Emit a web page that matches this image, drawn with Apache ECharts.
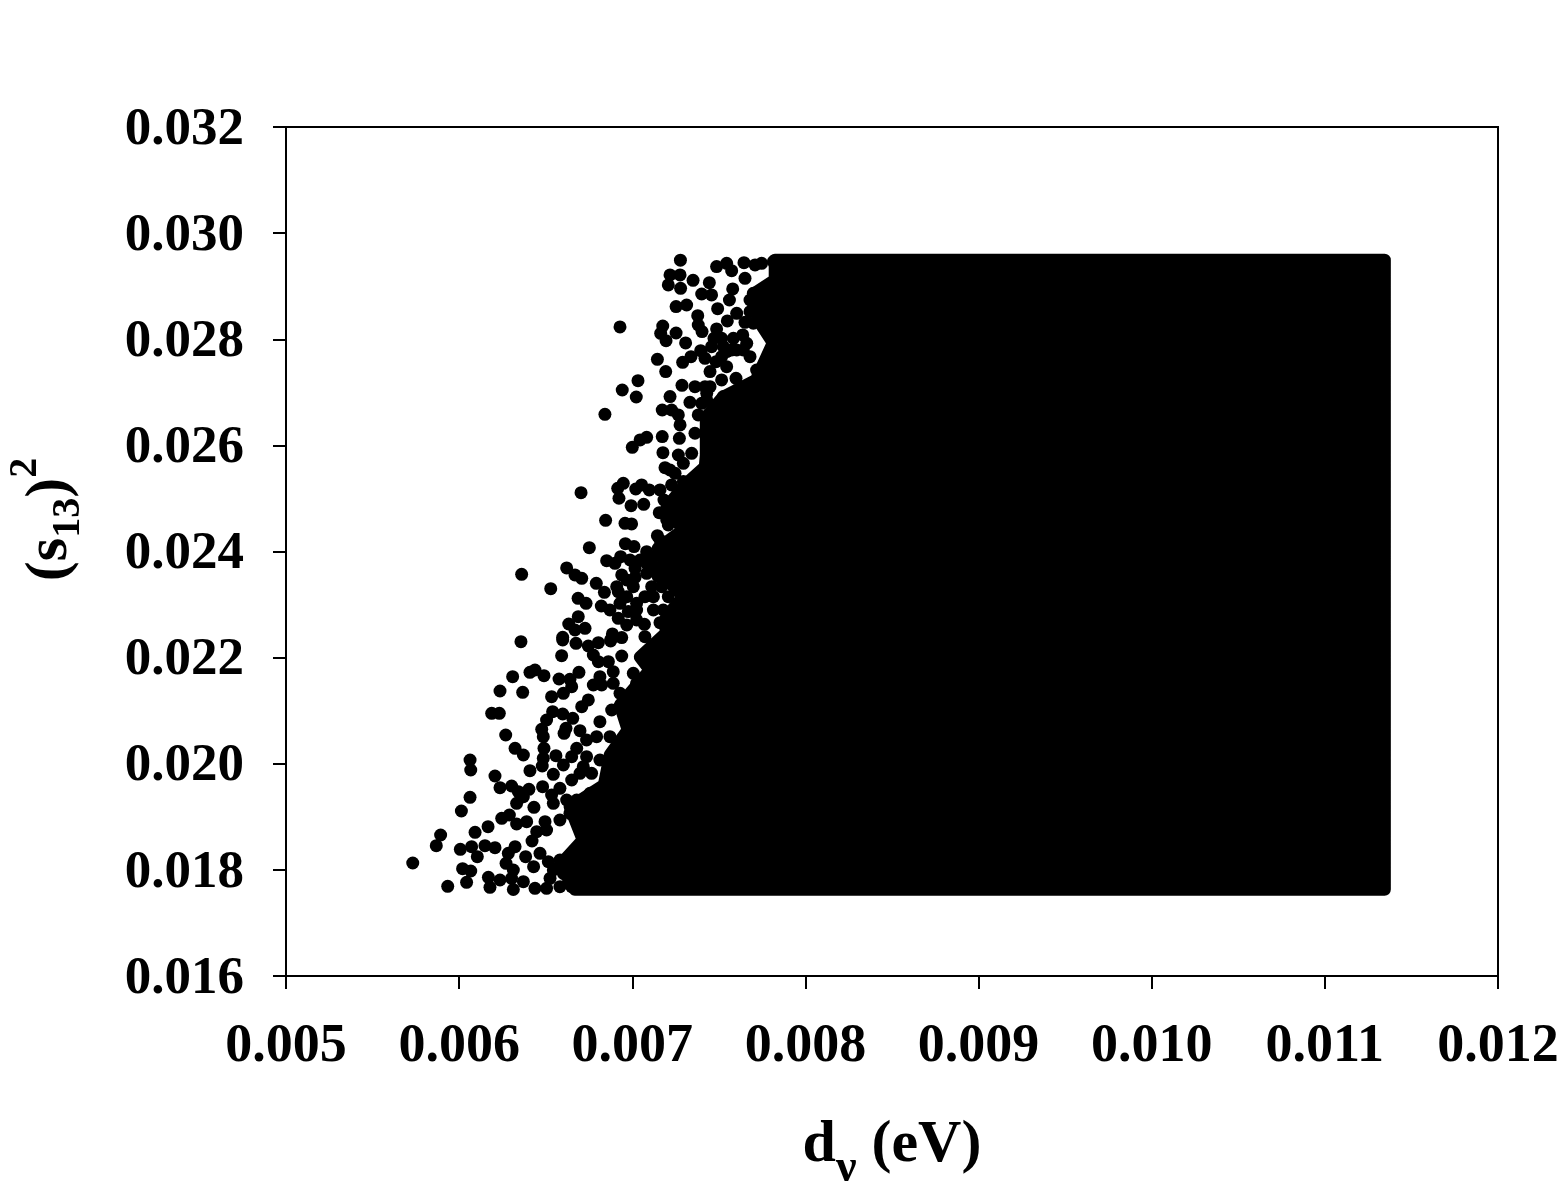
<!DOCTYPE html>
<html><head><meta charset="utf-8">
<style>html,body{margin:0;padding:0;background:#fff}#c{width:1560px;height:1200px}</style>
<script src="https://cdn.jsdelivr.net/npm/echarts@6/dist/echarts.min.js"></script>
</head><body><div id="c"></div>
<script>
const xRange = [0.005, 0.012];
const yRange = [0.016, 0.032];
const xStep = 0.001;
const yStep = 0.002;
const xTitle = 'd{sub|ν}{rest| (eV)}';
const yTitle = '(s{sub|13}){sup|2}';

// Boundary of the saturated region (centres of the outermost overlapping points)
const denseEdge = [[0.006669,0.01763],[0.006583,0.018092],[0.006715,0.018563],[0.00664,0.019185],[0.006837,0.0196],[0.006871,0.020165],[0.006975,0.020636],[0.006929,0.021107],[0.007102,0.021767],[0.007045,0.022012],[0.007195,0.022464],[0.007189,0.022709],[0.007252,0.022992],[0.007299,0.023143],[0.00716,0.023595],[0.007189,0.023896],[0.00716,0.024085],[0.007293,0.024405],[0.0072,0.024839],[0.007304,0.025254],[0.00742,0.025593],[0.007426,0.025819],[0.007426,0.026535],[0.007524,0.026912],[0.007715,0.027233],[0.007813,0.02793],[0.007738,0.028307],[0.007709,0.028872],[0.007824,0.029117],[0.007824,0.029494],[0.011345,0.029494],[0.011345,0.01763]];

const dotsLow = [[0.006357,0.022301],[0.006598,0.022332],[0.006675,0.02227],[0.006746,0.022219],[0.006804,0.022282],[0.006875,0.022314],[0.006592,0.022037],[0.006775,0.02205],[0.006939,0.022031],[0.006804,0.021924],[0.006862,0.021924],[0.00689,0.021736],[0.006309,0.021641],[0.006409,0.021723],[0.006438,0.021767],[0.00649,0.02166],[0.006577,0.021597],[0.00664,0.021591],[0.006692,0.021723],[0.00665,0.021453],[0.006602,0.021327],[0.006534,0.021264],[0.006236,0.021371],[0.006367,0.021346],[0.006775,0.021484],[0.006823,0.021484],[0.006746,0.021202],[0.006708,0.021076],[0.006188,0.02095],[0.006232,0.02095],[0.00654,0.020982],[0.006505,0.020825],[0.006598,0.020938],[0.006656,0.020856],[0.006477,0.020649],[0.006486,0.020511],[0.006617,0.020668],[0.006606,0.020573],[0.006698,0.020624],[0.006813,0.020793],[0.006881,0.021013],[0.006269,0.020542],[0.006323,0.020291],[0.006371,0.020165],[0.00649,0.020291],[0.006486,0.020102],[0.00648,0.019958],[0.006559,0.020153],[0.006679,0.020291],[0.00665,0.020134],[0.006602,0.019977],[0.006063,0.020071],[0.006067,0.019882],[0.006409,0.01987],[0.006544,0.019801],[0.006207,0.019769],[0.006236,0.019549],[0.006303,0.019581],[0.006342,0.019474],[0.006403,0.019518],[0.006482,0.019568],[0.006582,0.019537],[0.006534,0.019411],[0.00665,0.019694],[0.006765,0.01982],[0.006371,0.01938],[0.006332,0.019254],[0.006432,0.019179],[0.006544,0.019254],[0.006063,0.019367],[0.006013,0.01911],[0.006246,0.018972],[0.00629,0.019034],[0.006332,0.018865],[0.00639,0.018909],[0.006496,0.018909],[0.006167,0.018814],[0.006092,0.018708],[0.005893,0.018657],[0.005868,0.018456],[0.006448,0.01872],[0.006421,0.018544],[0.006505,0.018752],[0.006007,0.018387],[0.006072,0.018438],[0.006105,0.018249],[0.006149,0.018456],[0.006207,0.018419],[0.006323,0.018438],[0.006284,0.018312],[0.006271,0.018124],[0.006313,0.017998],[0.006384,0.018249],[0.006467,0.018312],[0.006515,0.018155],[0.00643,0.018061],[0.005732,0.01813],[0.00602,0.018023],[0.006067,0.017979],[0.006043,0.017765],[0.005934,0.01769],[0.006169,0.01786],[0.006178,0.017671],[0.006236,0.017809],[0.006303,0.017841],[0.006313,0.01763],[0.006371,0.017778],[0.006438,0.017652],[0.006505,0.017652],[0.006582,0.017684],[0.00665,0.017684],[0.006794,0.017652],[0.006717,0.017778],[0.007006,0.021704],[0.007025,0.021516],[0.006948,0.021264],[0.00689,0.021516],[0.006987,0.020982],[0.006871,0.020511],[0.006794,0.020511],[0.006736,0.020448],[0.006736,0.020134],[0.006871,0.01982],[0.006698,0.01982],[0.006794,0.01938],[0.006679,0.019317],[0.00664,0.019066],[0.006582,0.01894],[0.006698,0.019003],[0.006736,0.018814],[0.006717,0.0185],[0.006659,0.018249],[0.006582,0.018186],[0.006602,0.017935],[0.006525,0.017841],[0.006852,0.017809],[0.00689,0.018312],[0.006775,0.017935],[0.00689,0.019505],[0.006813,0.021641],[0.006929,0.021327],[0.006717,0.019945],[0.006813,0.020071],[0.006756,0.019443],[0.006621,0.019317],[0.006679,0.019003],[0.006736,0.018312],[0.006544,0.018],[0.006698,0.018061]];

const dotsMid = [[0.007295,0.025662],[0.007189,0.02558],[0.007247,0.025474],[0.006704,0.025109],[0.006916,0.025191],[0.006948,0.025285],[0.00702,0.025178],[0.007054,0.025254],[0.007098,0.02516],[0.006923,0.025003],[0.006993,0.024864],[0.007066,0.024889],[0.007183,0.024971],[0.007156,0.024732],[0.007208,0.0245],[0.007199,0.024594],[0.006846,0.024588],[0.006958,0.024531],[0.006996,0.024519],[0.007145,0.024299],[0.006752,0.024073],[0.00696,0.024148],[0.00701,0.024092],[0.007083,0.023997],[0.00715,0.02406],[0.006852,0.023828],[0.006933,0.023903],[0.006987,0.02384],[0.0069,0.023777],[0.006621,0.02369],[0.006361,0.02357],[0.006669,0.023558],[0.006708,0.023495],[0.006792,0.0234],[0.006939,0.023558],[0.007016,0.023514],[0.006529,0.0233],[0.00691,0.023338],[0.006839,0.023231],[0.006968,0.023149],[0.006687,0.023118],[0.006733,0.023024],[0.006821,0.022973],[0.006871,0.022898],[0.006929,0.023024],[0.007006,0.023338],[0.007073,0.023149],[0.006688,0.022772],[0.006633,0.022634],[0.006727,0.022552],[0.006598,0.022383],[0.006669,0.022521],[0.006885,0.022446],[0.006875,0.022333],[0.006939,0.022377],[0.006919,0.022741],[0.006968,0.022615],[0.00707,0.022628],[0.007073,0.022395],[0.00716,0.022659],[0.007208,0.023149],[0.007122,0.022898],[0.00717,0.023338],[0.007227,0.025254],[0.007295,0.025317],[0.007314,0.025097],[0.007256,0.024908],[0.007314,0.024751],[0.007247,0.024751],[0.007256,0.02428],[0.007237,0.024091],[0.007199,0.023903],[0.007122,0.023715],[0.007199,0.023589],[0.007083,0.023589],[0.007179,0.022898],[0.007237,0.022835],[0.007025,0.022898],[0.00715,0.023526],[0.006968,0.023463],[0.007112,0.023338],[0.007025,0.023024],[0.007122,0.023149],[0.006977,0.022867],[0.007025,0.02271],[0.006919,0.023243],[0.007141,0.023589],[0.007083,0.023777],[0.007016,0.023683],[0.007045,0.02384],[0.007122,0.023903],[0.00716,0.024217],[0.007199,0.024783],[0.00716,0.02516],[0.007218,0.025536]];

const dotsHigh = [[0.007278,0.02949],[0.007487,0.029369],[0.007545,0.029431],[0.007574,0.029293],[0.007645,0.029444],[0.007709,0.0294],[0.007747,0.029431],[0.007651,0.029149],[0.007218,0.029212],[0.007276,0.029212],[0.007208,0.029023],[0.007279,0.02896],[0.007351,0.029111],[0.007445,0.029067],[0.007401,0.028853],[0.007458,0.028835],[0.00758,0.028948],[0.007561,0.02874],[0.007699,0.028866],[0.00768,0.02874],[0.007253,0.028615],[0.007314,0.028646],[0.007493,0.028577],[0.007378,0.028445],[0.007381,0.028269],[0.007403,0.028144],[0.007603,0.028489],[0.007549,0.028345],[0.007651,0.028319],[0.007176,0.02825],[0.006929,0.028232],[0.007164,0.028112],[0.007195,0.027974],[0.007253,0.028118],[0.007308,0.02793],[0.007487,0.028194],[0.007472,0.028018],[0.007516,0.028018],[0.007584,0.028018],[0.007638,0.028081],[0.007458,0.027861],[0.007545,0.027767],[0.007641,0.027798],[0.007395,0.027785],[0.00742,0.027641],[0.007339,0.027672],[0.007291,0.027566],[0.007145,0.027622],[0.007193,0.02739],[0.007484,0.027578],[0.007545,0.027484],[0.007449,0.02739],[0.007516,0.027233],[0.007599,0.027264],[0.007033,0.02722],[0.006942,0.027044],[0.007287,0.027132],[0.007023,0.026912],[0.007218,0.026919],[0.007362,0.027107],[0.00742,0.027107],[0.007333,0.026812],[0.006842,0.026586],[0.007173,0.026667],[0.007227,0.026667],[0.007266,0.026573],[0.007276,0.026385],[0.007381,0.026573],[0.007272,0.026133],[0.007173,0.026165],[0.007083,0.026152],[0.007045,0.026102],[0.007,0.025964],[0.007362,0.026228],[0.007177,0.025863],[0.007266,0.025819],[0.007343,0.025851],[0.007401,0.026793],[0.00743,0.026981],[0.007815,0.029463],[0.007574,0.027798],[0.007661,0.027924],[0.007526,0.027861],[0.00768,0.02852],[0.007699,0.028301],[0.007603,0.027798],[0.007516,0.027672],[0.00768,0.027672],[0.007718,0.027421],[0.007699,0.02717],[0.007449,0.027107],[0.007526,0.026919],[0.00743,0.026856]];

const serif = '"Liberation Serif","Times New Roman",serif';
const dots = dotsLow.concat(dotsMid, dotsHigh);

const chart = echarts.init(document.getElementById('c'), null, {renderer: 'canvas'});
chart.setOption({
  animation: false,
  backgroundColor: '#fff',
  grid: {left: 286, right: 62, top: 127, bottom: 224, containLabel: false, outerBoundsMode: 'none', show: true, borderColor: '#000', borderWidth: 2, backgroundColor: 'transparent'},
  xAxis: {
    type: 'value', min: xRange[0], max: xRange[1], interval: xStep,
    splitLine: {show: false},
    axisLine: {show: true, onZero: false, lineStyle: {color: '#000', width: 2}},
    axisTick: {show: true, length: 13, lineStyle: {color: '#000', width: 2}},
    axisLabel: {color: '#000', fontFamily: serif, fontWeight: 'bold', fontSize: 54, margin: 44, formatter: v => v.toFixed(3), showMinLabel: true, showMaxLabel: true, hideOverlap: false},
    name: xTitle, nameLocation: 'middle', nameGap: 122,
    nameTextStyle: {color: '#000', fontFamily: serif, fontWeight: 'bold', fontSize: 60,
      rich: {
        sub: {fontFamily: serif, fontWeight: 'bold', fontSize: 46, color: '#000', padding: [48, 0, 0, 0]},
        rest: {fontFamily: serif, fontWeight: 'bold', fontSize: 60, color: '#000'}
      }}
  },
  yAxis: {
    type: 'value', min: yRange[0], max: yRange[1], interval: yStep,
    splitLine: {show: false},
    axisLine: {show: true, onZero: false, lineStyle: {color: '#000', width: 2}},
    axisTick: {show: true, length: 13, lineStyle: {color: '#000', width: 2}},
    axisLabel: {color: '#000', fontFamily: serif, fontWeight: 'bold', fontSize: 53, margin: 42, formatter: v => '{l|' + v.toFixed(3) + '}', showMinLabel: true, showMaxLabel: true, hideOverlap: false,
      rich: {l: {fontFamily: serif, fontWeight: 'bold', fontSize: 53, color: '#000', padding: [6, 0, 0, 0]}}},
    name: yTitle, nameLocation: 'middle', nameGap: 192, nameRotate: 90,
    nameTextStyle: {color: '#000', fontFamily: serif, fontWeight: 'bold', fontSize: 60, padding: [0, 0, 0, 64],
      rich: {
        sub: {fontFamily: serif, fontWeight: 'bold', fontSize: 40, color: '#000', padding: [38, 0, 0, 0]},
        sup: {fontFamily: serif, fontWeight: 'bold', fontSize: 40, color: '#000', padding: [0, 0, 48, 0]}
      }}
  },
  series: [
    {
      type: 'custom', data: denseEdge, encode: {x: 0, y: 1}, silent: true,
      renderItem: (params, api) => {
        if (params.dataIndex !== 0) return null;
        return {type: 'polygon', shape: {points: denseEdge.map(p => api.coord(p))},
          style: {fill: '#000', stroke: '#000', lineWidth: 12.5, lineJoin: 'round'}};
      }
    },
    {type: 'scatter', data: dots, symbol: 'circle', symbolSize: 13, itemStyle: {color: '#000', opacity: 1}, silent: true, large: false}
  ]
});
</script></body></html>
